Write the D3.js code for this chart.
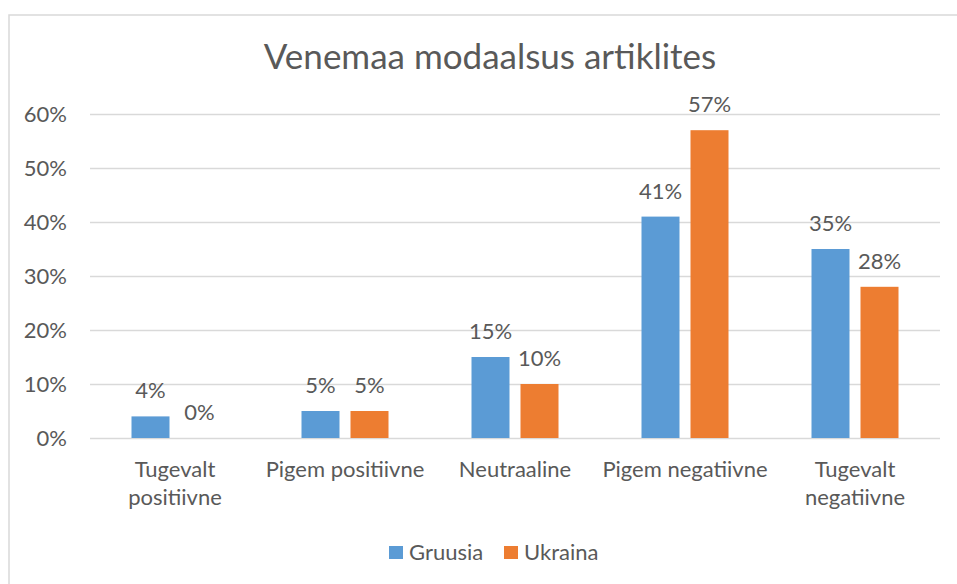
<!DOCTYPE html>
<html>
<head>
<meta charset="utf-8">
<script src="https://cdn.jsdelivr.net/npm/d3@7"></script>
<style>
  body { margin: 0; background: #fff; }
  text { font-family: Lato, "Open Sans", sans-serif; fill: #595959; }
</style>
</head>
<body>
<div class="chart"></div>
<script>
// chart data
const categories = [["Tugevalt", "positiivne"], ["Pigem positiivne"], ["Neutraaline"], ["Pigem negatiivne"], ["Tugevalt", "negatiivne"]];
const seriesNames = ["Gruusia", "Ukraina"];
const gruusia = [4, 5, 15, 41, 35];
const ukraina = [0, 5, 10, 57, 28];
const yTicks = [0, 10, 20, 30, 40, 50, 60];
const colors = ["#5B9BD5", "#ED7D31"];

const width = 957, height = 584;
const plot = {left: 90, right: 940, top: 114, bottom: 438};

var svg = d3.select(".chart").append("svg")
  .attr("width", width)
  .attr("height", height);

// outer frame
svg.append("rect")
  .attr("x", 9).attr("y", 15)
  .attr("width", 960).attr("height", 580)
  .attr("fill", "none")
  .attr("stroke", "#d9d9d9")
  .attr("stroke-width", 1.5);

svg.append("text")
  .attr("x", 490).attr("y", 69)
  .attr("text-anchor", "middle")
  .style("font-size", "35px")
  .text("Venemaa modaalsus artiklites");

var x = d3.scaleBand()
  .domain(d3.range(categories.length))
  .range([plot.left, plot.right]);

var y = d3.scaleLinear()
  .domain([0, 60])
  .range([plot.bottom, plot.top]);

// gridlines
svg.append("g")
  .selectAll("line")
  .data(yTicks)
  .enter().append("line")
  .attr("x1", plot.left).attr("x2", plot.right)
  .attr("y1", d => Math.round(y(d)) + 0.5)
  .attr("y2", d => Math.round(y(d)) + 0.5)
  .attr("stroke", "#d9d9d9")
  .attr("stroke-width", 1.3);

// y labels
svg.append("g")
  .selectAll("text")
  .data(yTicks)
  .enter().append("text")
  .attr("x", 67)
  .attr("y", d => y(d) + 8)
  .attr("text-anchor", "end")
  .style("font-size", "22px")
  .text(d => d + "%");

var barW = 38, gap = 11;
var series = [gruusia, ukraina];

series.forEach((vals, si) => {
  var g = svg.append("g");
  var bx = i => x(i) + x.bandwidth() / 2 + (si === 0 ? -gap / 2 - barW : gap / 2);
  g.selectAll("rect")
    .data(vals)
    .enter().append("rect")
    .attr("x", (d, i) => bx(i))
    .attr("y", d => y(d))
    .attr("width", barW)
    .attr("height", d => y(0) - y(d))
    .attr("fill", colors[si]);
  g.selectAll("text")
    .data(vals)
    .enter().append("text")
    .attr("x", (d, i) => bx(i) + barW / 2)
    .attr("y", d => y(d) - 18)
    .attr("text-anchor", "middle")
    .style("font-size", "22px")
    .text(d => d + "%");
});

// category labels
var cat = svg.append("g")
  .selectAll("text")
  .data(categories)
  .enter().append("text")
  .attr("x", (d, i) => x(i) + x.bandwidth() / 2)
  .attr("y", 477)
  .attr("text-anchor", "middle")
  .style("font-size", "22px");
cat.selectAll("tspan")
  .data(d => d)
  .enter().append("tspan")
  .attr("x", function() { return this.parentNode.getAttribute("x"); })
  .attr("dy", (d, i) => i === 0 ? 0 : 28)
  .text(d => d);

// legend
var legendX = [389, 504];
var leg = svg.append("g")
  .selectAll("g")
  .data(seriesNames)
  .enter().append("g")
  .attr("transform", (d, i) => "translate(" + legendX[i] + ",546)");
leg.append("rect")
  .attr("width", 14).attr("height", 13)
  .attr("fill", (d, i) => colors[i]);
leg.append("text")
  .attr("x", 20).attr("y", 14)
  .style("font-size", "22px")
  .text(d => d);
</script>
</body>
</html>
